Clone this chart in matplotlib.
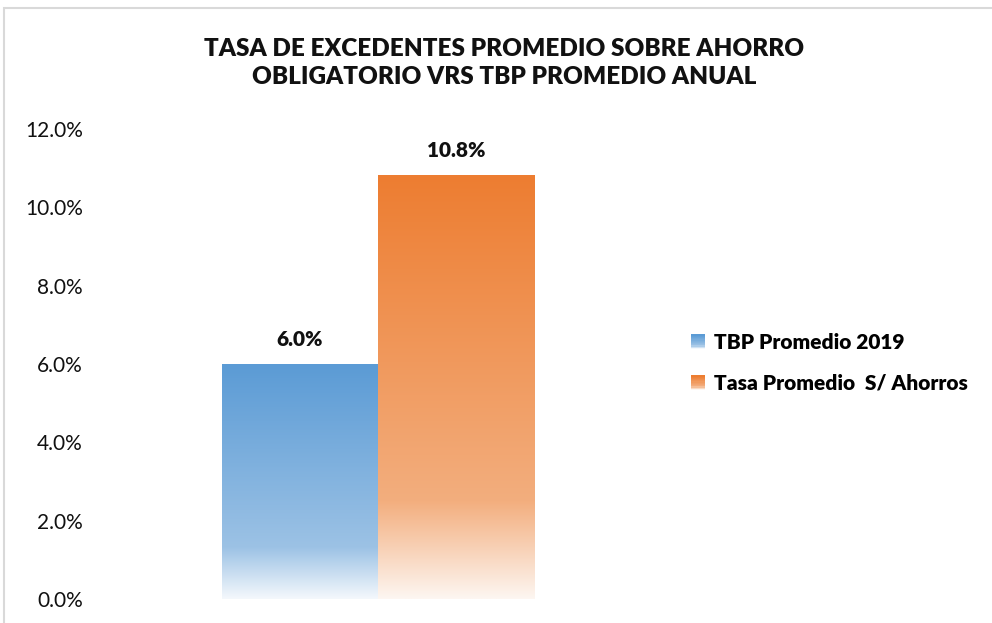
import numpy as np
import matplotlib
matplotlib.use("Agg")
import matplotlib.pyplot as plt
from matplotlib.colors import LinearSegmentedColormap
from matplotlib.legend_handler import HandlerBase
from matplotlib.patches import Rectangle
from matplotlib.ticker import PercentFormatter

# -----------------------------
# Data
# -----------------------------
SERIES = ['TBP Promedio 2019', 'Tasa Promedio  S/ Ahorros']
VALUES = [0.060, 0.108]
VALUE_LABELS = ['6.0%', '10.8%']
TITLE = 'TASA DE EXCEDENTES PROMEDIO SOBRE AHORRO\nOBLIGATORIO VRS TBP PROMEDIO ANUAL'

# gradient stops (top -> bottom)
GRADIENTS = [
    [(0.0, '#5b9bd5'), (0.78, '#9cc2e5'), (1.0, '#f4f8fc')],
    [(0.0, '#ed7d31'), (0.77, '#f3ae7e'), (1.0, '#fdf6f1')],
]

plt.rcParams['font.family'] = ['Lato', 'DejaVu Sans']


def make_cmap(stops):
    return LinearSegmentedColormap.from_list('g', stops)


class GradientHandler(HandlerBase):
    def __init__(self, cmap):
        super().__init__()
        self.cmap = cmap

    def create_artists(self, legend, orig_handle, xdescent, ydescent,
                       width, height, fontsize, trans):
        n = 12
        arts = []
        side = height
        for i in range(n):
            c = self.cmap(i / (n - 1))
            y = -ydescent + side - (i + 1) * side / n
            arts.append(Rectangle((-xdescent, y), side, side / n,
                                  facecolor=c, edgecolor='none', transform=trans))
        return arts


fig = plt.figure(figsize=(9.92, 6.23), dpi=100)
W, H = 992, 623

# chart border (light gray)
fig.patches.append(Rectangle((4 / W, -0.1), 1.2, 1 - 8 / H + 0.1, transform=fig.transFigure,
                             facecolor='none', edgecolor='#d9d9d9', linewidth=1.5))

ax = fig.add_axes([105 / W, 24 / H, 546 / W, 470 / H])

bar_w = 0.286
xs = [-bar_w / 2, bar_w / 2]
bars = ax.bar(xs, VALUES, width=bar_w, facecolor='none', edgecolor='none')

grad = np.linspace(0, 1, 256).reshape(-1, 1)
cmaps = [make_cmap(g) for g in GRADIENTS]
for b, cm in zip(bars, cmaps):
    x0 = b.get_x()
    ax.imshow(grad, cmap=cm, aspect='auto', interpolation='bilinear',
              extent=(x0, x0 + b.get_width(), 0, b.get_height()), zorder=2)

for x, v, lab in zip(xs, VALUES, VALUE_LABELS):
    ax.annotate(lab, (x, v), xytext=(0, 18), textcoords='offset points',
                ha='center', va='center', fontsize=15, fontweight='heavy', color='#111111')

ax.set_xlim(-0.5, 0.5)
ax.set_ylim(0, 0.12)
ax.set_yticks(np.arange(0, 0.1201, 0.02))
ax.yaxis.set_major_formatter(PercentFormatter(1.0, decimals=1))
ax.set_xticks([])
ax.tick_params(axis='y', length=0, pad=16, labelsize=15, labelcolor='#111111')
for s in ax.spines.values():
    s.set_visible(False)

fig.text(504 / W, 1 - 63 / H, TITLE, ha='center', va='center', fontsize=17.5,
         fontweight='heavy', color='#111111', linespacing=1.35)

handles = [Rectangle((0, 0), 1, 1) for _ in SERIES]
fig.legend(handles, SERIES, loc='center left', bbox_to_anchor=(672 / W, 1 - 363 / H),
           frameon=False, prop={'size': 15, 'weight': 'heavy'},
           handler_map={h: GradientHandler(cm) for h, cm in zip(handles, cmaps)},
           handlelength=0.7, handleheight=0.7, handletextpad=0.4, labelspacing=1.05)

fig.savefig('out.png', dpi=100)
